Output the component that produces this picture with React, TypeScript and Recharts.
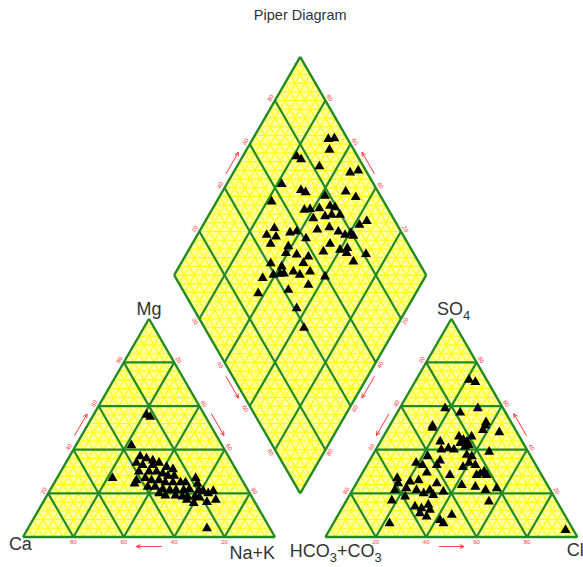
import React from "react";
import { ScatterChart, Scatter, XAxis, YAxis, ReferenceLine, ReferenceArea } from "recharts";

// ---- sample data (percent of meq/l) ----
// cation triangle: Mg and Na+K, Ca is the remainder
const cationMg = [
  56, 55, 42, 27, 4, 37, 36, 35, 34, 33,
  33, 34, 32, 31, 30, 30, 30, 29, 28, 28,
  26, 27, 26, 26, 25, 25, 25, 25, 27, 23,
  23, 22, 21.5, 21.5, 21.5, 22, 21.5, 21, 20, 19,
  19, 18.5, 18.5, 18.5, 18, 20, 21, 17, 16, 15.5,
  17, 24.5, 24.5,
];
const cationNaK = [
  21, 23, 22, 22, 71, 28, 31, 34, 28, 31,
  35, 37, 41, 44, 31, 35, 38, 41, 43.5, 46,
  32, 35, 38, 41, 44, 47, 50, 52, 55, 38,
  41, 44.5, 47.5, 50, 53, 55, 59, 61, 44, 47,
  51, 54, 56, 59, 61, 63.5, 65, 68, 65, 60,
  56.5, 32, 57,
];
// anion triangle: SO4 and Cl, HCO3+CO3 is the remainder
const anionSO4 = [
  72, 71, 59, 57, 59, 51, 50, 51, 52.5, 49,
  48, 46, 44.5, 43, 43.7, 42, 46, 41.4, 43.7, 40.6,
  40, 40, 39, 37, 34, 33, 35, 33, 29.5, 37.6,
  37, 32, 34, 33, 29, 30, 28.4, 28.4, 28.4, 24.6,
  20.8, 23.8, 23, 21.5, 22.3, 16.2, 27, 24.6, 21.5, 25.4,
  22.3, 26, 21.5, 20, 21.5, 19.2, 18.5, 16.7, 13.9, 13.1,
  14.7, 10.8, 9.3, 12.4, 7.8, 6.3, 10.1, 6.3, 3.2,
];
const anionCl = [
  21, 24, 18, 25, 31, 17, 17.5, 38, 37.5, 38,
  45, 30, 32.5, 32, 34.3, 36, 35, 34.7, 23.7, 28.5,
  31, 26, 45.5, 22, 19, 22, 28, 27.7, 25.5, 37.3,
  39.6, 38.6, 40, 43, 47, 48, 49.8, 45.8, 35.2, 31.9,
  36.4, 42.2, 48, 52.8, 56.8, 56.8, 15, 16.6, 16.8, 20.9,
  21, 24, 25.4, 29, 30.7, 33.2, 22.4, 18, 28.6, 31.6,
  33.5, 32.1, 35.5, 35.3, 41.6, 43.7, 45.1, 22.3, 93.7,
];
// diamond: Ca+Mg and SO4+Cl
const diamondCaMg = [
  70, 67.8, 67.1, 78.6, 76.2, 67.3, 53.7, 50.9, 78.2, 69.2,
  66.8, 51.1, 45.8, 78.2, 58.3, 63.3, 61.2, 57.7, 54, 51.7,
  48, 51.3, 53.6, 57.8, 38, 36, 71, 72.5, 68.4, 68.9,
  63.8, 61.4, 56.1, 53.6, 49.4, 44.8, 41.4, 39.6, 37.9, 45.3,
  46.2, 40, 37.5, 36.6, 32, 28.7, 61.3, 60.7, 56.1, 51.5,
  51, 64.4, 59.3, 60.7, 58.3, 56.8, 53.5, 50.2, 46.9, 64.2,
  62.5, 51.3, 44.5, 39.8, 43.8, 36.4,
];
const diamondSO4Cl = [
  92.3, 94.9, 90.3, 75.8, 76.9, 82.5, 93.3, 97, 63.5, 69.8,
  71.1, 87.2, 89.9, 55.5, 78, 66.6, 69, 72.9, 77.7, 79.4,
  79.6, 76.3, 73.3, 68.2, 85, 88.8, 50.5, 45.9, 49.2, 45.4,
  55.7, 58.6, 60.7, 67.2, 72.5, 75.1, 77, 79.7, 80.1, 69,
  64.6, 71.6, 74.9, 73.5, 74.2, 80.9, 51.9, 49.4, 53.3, 54,
  57.5, 41, 44.6, 39.4, 42.3, 43.9, 48.1, 49.9, 54.7, 34.4,
  29.2, 41.9, 51, 59.5, 41, 39.4,
];
const tickValues = [20, 40, 60, 80];

// ---- geometry (triangle side = 100 units, gap = 20) ----
const H = Math.sqrt(3) / 2;
type P = { x: number; y: number };
const lerp = (a: P, b: P, t: number): P => ({ x: a.x + (b.x - a.x) * t, y: a.y + (b.y - a.y) * t });
const add = (a: P, b: P, k = 1): P => ({ x: a.x + b.x * k, y: a.y + b.y * k });

const CA = { x: 0, y: 0 }, NAK = { x: 100, y: 0 }, MG = { x: 50, y: 100 * H };
const HC = { x: 120, y: 0 }, CL = { x: 220, y: 0 }, SO = { x: 170, y: 100 * H };
const DB = { x: 110, y: 20 * H }, DL = { x: 60, y: 120 * H }, DR = { x: 160, y: 120 * H }, DT = { x: 110, y: 220 * H };

const cationXY = (mg: number, nak: number): P => ({ x: nak + mg / 2, y: H * mg });
const anionXY = (so4: number, cl: number): P => ({ x: HC.x + cl + so4 / 2, y: H * so4 });
const diamondXY = (camg: number, so4cl: number): P =>
  add(add(DB, { x: DL.x - DB.x, y: DL.y - DB.y }, camg / 100), { x: DR.x - DB.x, y: DR.y - DB.y }, so4cl / 100);

const cationPts = cationMg.map((m, i) => cationXY(m, cationNaK[i]));
const anionPts = anionSO4.map((s, i) => anionXY(s, anionCl[i]));
const diamondPts = diamondCaMg.map((c, i) => diamondXY(c, diamondSO4Cl[i]));

const YELLOW_FILL = "#ffffa0";
const YELLOW = "#ffff00";
const GREEN = "#218a21";
const RED = "#ff3838";
const FONT = "'Liberation Sans', Arial, sans-serif";

type Seg = { p: P; q: P; major: boolean };
const triGrid = (a: P, b: P, c: P): Seg[] => {
  const out: Seg[] = [];
  for (let i = 1; i < 25; i++) {
    const t = i / 25;
    const major = i % 5 === 0;
    out.push({ p: lerp(a, c, t), q: lerp(b, c, t), major });
    out.push({ p: lerp(a, b, t), q: lerp(c, b, t), major });
    out.push({ p: lerp(b, a, t), q: lerp(c, a, t), major });
  }
  return out;
};
const diamondGrid = (): Seg[] => {
  const out: Seg[] = [];
  for (let i = 1; i < 25; i++) {
    const t = i / 25;
    const major = i % 5 === 0;
    out.push({ p: lerp(DB, DR, t), q: lerp(DL, DT, t), major });
    out.push({ p: lerp(DB, DL, t), q: lerp(DR, DT, t), major });
  }
  for (let k = 1; k < 50; k++) {
    const y = DB.y + k * 4 * H;
    const half = k <= 25 ? k * 2 : (50 - k) * 2;
    out.push({ p: { x: DB.x - half, y }, q: { x: DB.x + half, y }, major: false });
  }
  return out;
};
const grid = [...triGrid(CA, NAK, MG), ...triGrid(HC, CL, SO), ...diamondGrid()];
const edges: [P, P][] = [
  [CA, NAK], [NAK, MG], [MG, CA],
  [HC, CL], [CL, SO], [SO, HC],
  [DB, DR], [DR, DT], [DT, DL], [DL, DB],
];

// arrows along edges
const arrowSegs: [P, P][] = [];
const arrow = (from: P, to: P, n: P, off: number) => {
  const mid = add(lerp(from, to, 0.5), n, off);
  const len = Math.hypot(to.x - from.x, to.y - from.y);
  const d = { x: (to.x - from.x) / len, y: (to.y - from.y) / len };
  const s = add(mid, d, -5);
  const e = add(mid, d, 5);
  arrowSegs.push([s, e]);
  [0.45, -0.45].forEach((a) => {
    const r = { x: d.x * Math.cos(a) - d.y * Math.sin(a), y: d.x * Math.sin(a) + d.y * Math.cos(a) };
    arrowSegs.push([e, add(e, r, -1.8)]);
  });
};
const nL = { x: -H, y: 0.5 }, nR = { x: H, y: 0.5 }, nD = { x: 0, y: -1 };
const nLL = { x: -H, y: -0.5 }, nLR = { x: H, y: -0.5 };
arrow(NAK, CA, nD, 3.8);
arrow(CA, MG, nL, 2.4);
arrow(MG, NAK, nR, 2.6);
arrow(HC, CL, nD, 3.8);
arrow(SO, HC, nL, 2.6);
arrow(CL, SO, nR, 2.6);
arrow(DL, DT, nL, 2.3);
arrow(DR, DT, nR, 2.3);
arrow(DL, DB, nLL, 2.3);
arrow(DR, DB, nLR, 2.3);

// text marks
type Part = { t: string; sub?: boolean };
type Lbl = P & { parts: Part[]; anchor?: string; angle?: number; size: number; fill: string; mid?: boolean };
const ticks: Lbl[] = [];
const tickRow = (from: P, to: P, val: (v: number) => number, n: P, angle: number, off = 2) =>
  tickValues.forEach((v) => {
    const pos = add(lerp(from, to, v / 100), n, off);
    ticks.push({ ...pos, parts: [{ t: String(val(v)) }], angle, size: 6, fill: RED, mid: true });
  });
tickRow(CA, NAK, (v) => 100 - v, nD, 0);
tickRow(CA, MG, (v) => v, nL, -60);
tickRow(MG, NAK, (v) => v, nR, 60);
tickRow(HC, CL, (v) => v, nD, 0, 1.8);
tickRow(HC, SO, (v) => 100 - v, nL, -60);
tickRow(CL, SO, (v) => v, nR, 60);
tickRow(DL, DT, (v) => v, nL, -60);
tickRow(DR, DT, (v) => v, nR, 60);
tickRow(DB, DL, (v) => 100 - v, nLL, 60);
tickRow(DB, DR, (v) => 100 - v, nLR, -60);

const INK = "#333333";
const titles: Lbl[] = [
  { x: DT.x, y: DT.y + 14.7, parts: [{ t: "Piper Diagram" }], size: 14.5, fill: INK },
  { x: MG.x, y: MG.y + 1.5, parts: [{ t: "Mg" }], size: 18, fill: INK },
  { x: CA.x - 5.6, y: -5.2, parts: [{ t: "Ca" }], anchor: "start", size: 18, fill: INK },
  { x: NAK.x, y: -8.7, parts: [{ t: "Na+K" }], anchor: "end", size: 18, fill: INK },
  { x: SO.x - 5.7, y: SO.y + 1.5, parts: [{ t: "SO" }, { t: "4", sub: true }], anchor: "start", size: 18, fill: INK },
  {
    x: HC.x - 14.1, y: -7.9,
    parts: [{ t: "HCO" }, { t: "3", sub: true }, { t: "+CO" }, { t: "3", sub: true }],
    anchor: "start", size: 18, fill: INK,
  },
  { x: CL.x - 4.2, y: -7.5, parts: [{ t: "Cl" }], anchor: "start", size: 18, fill: INK },
];

const renderText = (props: any) => {
  const { cx, cy, payload } = props;
  if (cx == null || cy == null) return <g />;
  const l = payload as Lbl;
  return (
    <text
      x={cx}
      y={cy}
      textAnchor={l.anchor || "middle"}
      dominantBaseline={l.mid ? "central" : undefined}
      fontSize={l.size}
      fill={l.fill}
      fontFamily={FONT}
      transform={l.angle ? `rotate(${l.angle} ${cx} ${cy})` : undefined}
    >
      {l.parts.map((p, i) => {
        const prevSub = i > 0 && l.parts[i - 1].sub;
        if (p.sub) return <tspan key={i} fontSize={l.size * 0.72} dy={5}>{p.t}</tspan>;
        return <tspan key={i} dy={prevSub ? -5 : 0}>{p.t}</tspan>;
      })}
    </text>
  );
};

const renderTriangle = (props: any) => {
  const { cx, cy } = props;
  if (cx == null || cy == null) return <g />;
  return <polygon points={`${cx},${cy - 5.8} ${cx - 5},${cy + 2.9} ${cx + 5},${cy + 2.9}`} fill="#000" />;
};

const triShape = (props: any) => {
  const { x, y, width, height } = props;
  return <polygon points={`${x},${y + height} ${x + width},${y + height} ${x + width / 2},${y}`} fill={YELLOW_FILL} />;
};
const diamondShape = (props: any) => {
  const { x, y, width, height } = props;
  return (
    <polygon
      points={`${x + width / 2},${y} ${x + width},${y + height / 2} ${x + width / 2},${y + height} ${x},${y + height / 2}`}
      fill={YELLOW_FILL}
    />
  );
};

// px per unit is 2.52, origin of the Ca corner at (23, 537)
const X_DOMAIN = [-23 / 2.52, (583 - 23) / 2.52];
const Y_DOMAIN = [(537 - 567) / 2.52, 537 / 2.52];

export default function App() {
  return (
    <div style={{ position: "absolute", left: 0, top: 0, background: "#fff" }}>
      <ScatterChart width={583} height={567} margin={{ top: 0, right: 0, bottom: 0, left: 0 }}>
        <XAxis type="number" dataKey="x" domain={X_DOMAIN} hide allowDataOverflow />
        <YAxis type="number" dataKey="y" domain={Y_DOMAIN} hide allowDataOverflow />

        <ReferenceArea x1={CA.x} x2={NAK.x} y1={0} y2={MG.y} shape={triShape} ifOverflow="visible" />
        <ReferenceArea x1={HC.x} x2={CL.x} y1={0} y2={SO.y} shape={triShape} ifOverflow="visible" />
        <ReferenceArea x1={DL.x} x2={DR.x} y1={DB.y} y2={DT.y} shape={diamondShape} ifOverflow="visible" />

        {grid.filter((s) => !s.major).map((s, i) => (
          <ReferenceLine key={`y${i}`} segment={[s.p, s.q]} stroke={YELLOW} strokeWidth={1.1} ifOverflow="visible" />
        ))}
        {grid.filter((s) => s.major).map((s, i) => (
          <ReferenceLine key={`g${i}`} segment={[s.p, s.q]} stroke={GREEN} strokeWidth={2.2} ifOverflow="visible" />
        ))}
        {edges.map(([p, q], i) => (
          <ReferenceLine key={`e${i}`} segment={[p, q]} stroke={GREEN} strokeWidth={2.4} ifOverflow="visible" />
        ))}
        {arrowSegs.map(([p, q], i) => (
          <ReferenceLine key={`a${i}`} segment={[p, q]} stroke={RED} strokeWidth={1} ifOverflow="visible" />
        ))}

        <Scatter data={cationPts} shape={renderTriangle} isAnimationActive={false} />
        <Scatter data={anionPts} shape={renderTriangle} isAnimationActive={false} />
        <Scatter data={diamondPts} shape={renderTriangle} isAnimationActive={false} />
        <Scatter data={ticks} shape={renderText} isAnimationActive={false} />
        <Scatter data={titles} shape={renderText} isAnimationActive={false} />
      </ScatterChart>
    </div>
  );
}
